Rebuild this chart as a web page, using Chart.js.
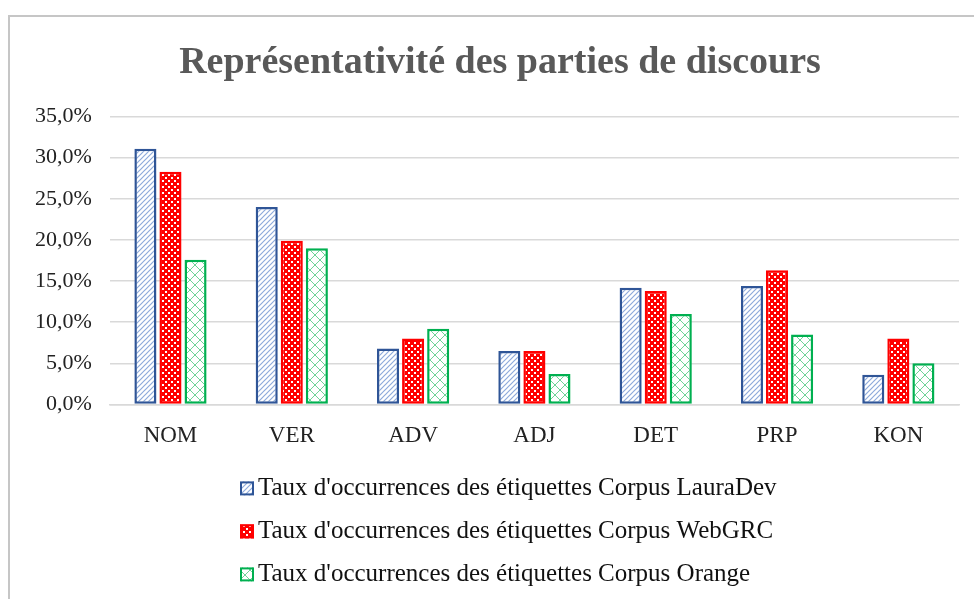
<!DOCTYPE html>
<html>
<head>
<meta charset="utf-8">
<script src="https://cdn.jsdelivr.net/npm/chart.js@4"></script>
<style>
    body { margin: 0; background: #fff; }
    #frame {
        position: absolute; left: 8px; top: 15px; width: 1000px; height: 700px;
        border-top: 2px solid #c6c6c6; border-left: 2px solid #c6c6c6;
    }
    #myChart { position: absolute; left: 0; top: 0; }
</style>
</head>
<body>
<div id="frame"></div>
<canvas id="myChart" width="974" height="599"></canvas>
<script>
const categories = ['NOM', 'VER', 'ADV', 'ADJ', 'DET', 'PRP', 'KON'];
const lauraDev = [31.1, 24.0, 6.8, 6.5, 14.2, 14.4, 3.6];
const webGRC = [28.3, 19.9, 8.0, 6.5, 13.8, 16.3, 8.0];
const orange = [17.6, 19.0, 9.2, 3.7, 11.0, 8.5, 5.0];
const seriesNames = [
    "Taux d'occurrences des étiquettes Corpus LauraDev",
    "Taux d'occurrences des étiquettes Corpus WebGRC",
    "Taux d'occurrences des étiquettes Corpus Orange"
];

function makeTile(size, draw) {
    let c = document.createElement('canvas');
    c.width = size;
    c.height = size;
    let g = c.getContext('2d');
    draw(g, size);
    return document.getElementById('myChart').getContext('2d').createPattern(c, 'repeat');
}

// blue diagonal hatch
const hatch = makeTile(5, function (g, s) {
    g.fillStyle = '#fff';
    g.fillRect(0, 0, s, s);
    g.strokeStyle = '#8eaadb';
    g.lineWidth = 1.2;
    g.beginPath();
    g.moveTo(-1, s + 1); g.lineTo(s + 1, -1);
    g.moveTo(-1, 1); g.lineTo(1, -1);
    g.moveTo(s - 1, s + 1); g.lineTo(s + 1, s - 1);
    g.stroke();
});

// red with white dots
const dots = makeTile(6, function (g, s) {
    g.fillStyle = '#ff0000';
    g.fillRect(0, 0, s, s);
    g.fillStyle = '#fff';
    g.fillRect(0, 0, 2, 2);
    g.fillRect(3, 3, 2, 2);
});

// green crosshatch
const cross = makeTile(10, function (g, s) {
    g.fillStyle = '#fff';
    g.fillRect(0, 0, s, s);
    g.strokeStyle = '#6fd398';
    g.lineWidth = 1;
    g.beginPath();
    g.moveTo(0, 0); g.lineTo(s, s);
    g.moveTo(0, s); g.lineTo(s, 0);
    g.stroke();
});

// legend stacked one item per row, left aligned like the original
const stackedLegend = {
    id: 'stackedLegend',
    afterLayout(chart) {
        // title sits a little right of the canvas centre in the original
        chart.titleBlock.left += 24;
    },
    afterDraw(chart) {
        const c = chart.ctx;
        const left = 240;
        const firstRow = chart.chartArea.bottom + 84;
        const rowGap = 43;
        c.save();
        c.font = '25px "Liberation Serif"';
        c.textBaseline = 'middle';
        chart.data.datasets.forEach((ds, i) => {
            const y = firstRow + i * rowGap;
            c.fillStyle = ds.backgroundColor;
            c.fillRect(left, y - 7, 14, 14);
            c.strokeStyle = ds.borderColor;
            c.lineWidth = 2;
            c.strokeRect(left + 1, y - 6, 12, 12);
            c.fillStyle = '#111';
            c.fillText(ds.label, left + 18, y);
        });
        c.restore();
    }
};

let ctx = document.getElementById('myChart').getContext('2d');
let myChart = new Chart(ctx, {
    type: 'bar',
    data: {
        labels: categories,
        datasets: [
            { label: seriesNames[0], data: lauraDev, backgroundColor: hatch, borderColor: '#2f5597', borderWidth: 2.5, borderSkipped: false },
            { label: seriesNames[1], data: webGRC, backgroundColor: dots, borderColor: '#ff0000', borderWidth: 2.5, borderSkipped: false },
            { label: seriesNames[2], data: orange, backgroundColor: cross, borderColor: '#00b050', borderWidth: 2.5, borderSkipped: false }
        ]
    },
    options: {
        responsive: false,
        animation: false,
        categoryPercentage: 0.62,
        barPercentage: 0.88,
        layout: { padding: { top: 20, left: 17, right: 15, bottom: 131 } },
        scales: {
            x: {
                grid: { display: false, drawTicks: false },
                border: { color: '#d9d9d9', width: 1.5 },
                ticks: {
                    color: '#222',
                    padding: 18,
                    font: { family: 'Liberation Serif', size: 23 }
                }
            },
            y: {
                min: 0,
                max: 35,
                grid: { color: '#d9d9d9', lineWidth: 1.5, drawTicks: false },
                border: { display: false },
                ticks: {
                    stepSize: 5,
                    color: '#222',
                    padding: 18,
                    font: { family: 'Liberation Serif', size: 22 },
                    callback: (v) => v.toFixed(1).replace('.', ',') + '%'
                }
            }
        },
        plugins: {
            tooltip: { enabled: false },
            title: {
                display: true,
                text: 'Représentativité des parties de discours',
                color: '#595959',
                font: { family: 'Liberation Serif', size: 38, weight: 'bold' },
                padding: { top: 20, bottom: 31 }
            },
            legend: { display: false }
        }
    },
    plugins: [stackedLegend]
});
</script>
</body>
</html>
